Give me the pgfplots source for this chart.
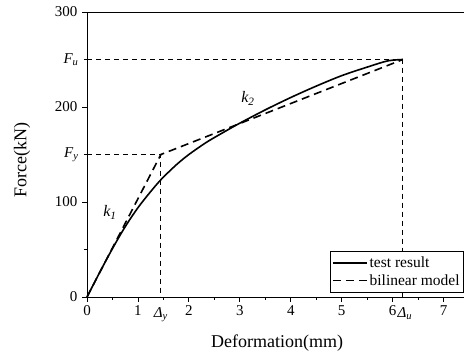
\documentclass[border=0pt]{standalone}
\usepackage{fontspec}
\setmainfont{Liberation Serif}
\usepackage{pgfplots}
\pgfplotsset{compat=1.18}
\begin{document}
\begin{tikzpicture}
\begin{axis}[
  scale only axis,
  width=377pt, height=285pt,
  xmin=0, xmax=7.4, ymin=0, ymax=300,
  axis x line*=bottom, axis y line*=left,
  axis line style={line width=0.9pt, -},
  xtick={0,1,2,3,4,5,6,7},
  ytick={0,100,200,300},
  minor xtick={0.5,1.5,2.5,3.5,4.5,5.5,6.5},
  minor ytick={50,150,250},
  extra x ticks={1.45,6.2},
  extra x tick labels={{\itshape Δ\textsubscript{y}},{\itshape \hspace*{4pt}Δ\textsubscript{u}}},
  extra x tick style={major tick length=0pt, tick label style={yshift=-7pt}},
  extra y ticks={150,250},
  extra y tick labels={{\itshape F\textsubscript{y}},{\itshape F\textsubscript{u}}},
  extra y tick style={major tick length=0pt, tick label style={xshift=-4pt}},
  tick align=outside,
  major tick length=5pt, minor tick length=3pt,
  tick style={line width=0.8pt, black},
  /pgf/number format/assume math mode=true,
  tick label style={font=\fontsize{15}{17}\selectfont},
  yticklabel style={xshift=-1pt},
  xlabel={Deformation(mm)},
  ylabel={Force(kN)},
  label style={font=\fontsize{18}{20}\selectfont},
  xlabel style={at={(axis description cs:0.504,-0.161)}, anchor=center},
  ylabel style={at={(axis description cs:-0.172,0.48)}, anchor=center},
  legend style={at={(rel axis cs:1,0.014)}, anchor=south east,
    font=\fontsize{15.5}{18}\selectfont, draw=black, line width=0.8pt,
    row sep=1pt, inner xsep=2pt, inner ysep=4pt},
  legend cell align=left,
  legend image post style={line width=1.6pt},
  legend image code/.code={\draw[#1] (0cm,0cm) -- (34pt,0cm);},
  clip=false,
]
\coordinate (bbl) at (rel axis cs:-0.2308,-0.207);
\coordinate (btr) at (rel axis cs:1,1.0421);
\draw[line width=0.9pt] (rel axis cs:0,1) -- (rel axis cs:1,1);
\addplot[black, line width=1.6pt, smooth, tension=0.5] coordinates {
(0,0) (0.25,26) (0.5,51) (0.75,74) (1.0,94) (1.25,111) (1.46,124)
(1.75,139) (2.0,150) (2.35,163) (2.7,174) (3.0,183) (3.5,197) (4.0,210)
(4.5,222) (5.0,233) (5.5,242) (5.9,248.5) (6.2,250)};
\addlegendentry{test result}
\addplot[black, line width=1.6pt, dash pattern=on 8pt off 5pt] coordinates {
(0,0) (1.45,150) (6.2,250)};
\addlegendentry{bilinear model}
\addplot[black, line width=1pt, dash pattern=on 5pt off 4pt, forget plot] coordinates {(0,250) (6.2,250) (6.2,0)};
\addplot[black, line width=1pt, dash pattern=on 5pt off 4pt, forget plot] coordinates {(0,150) (1.45,150) (1.45,0)};
\node[font=\fontsize{16}{18}\selectfont\itshape] at (axis cs:0.45,89) {k\textsubscript{1}};
\node[font=\fontsize{16}{18}\selectfont\itshape] at (axis cs:3.16,209) {k\textsubscript{2}};
\end{axis}
\pgfresetboundingbox
\path (bbl) rectangle (btr);
\end{tikzpicture}
\end{document}
